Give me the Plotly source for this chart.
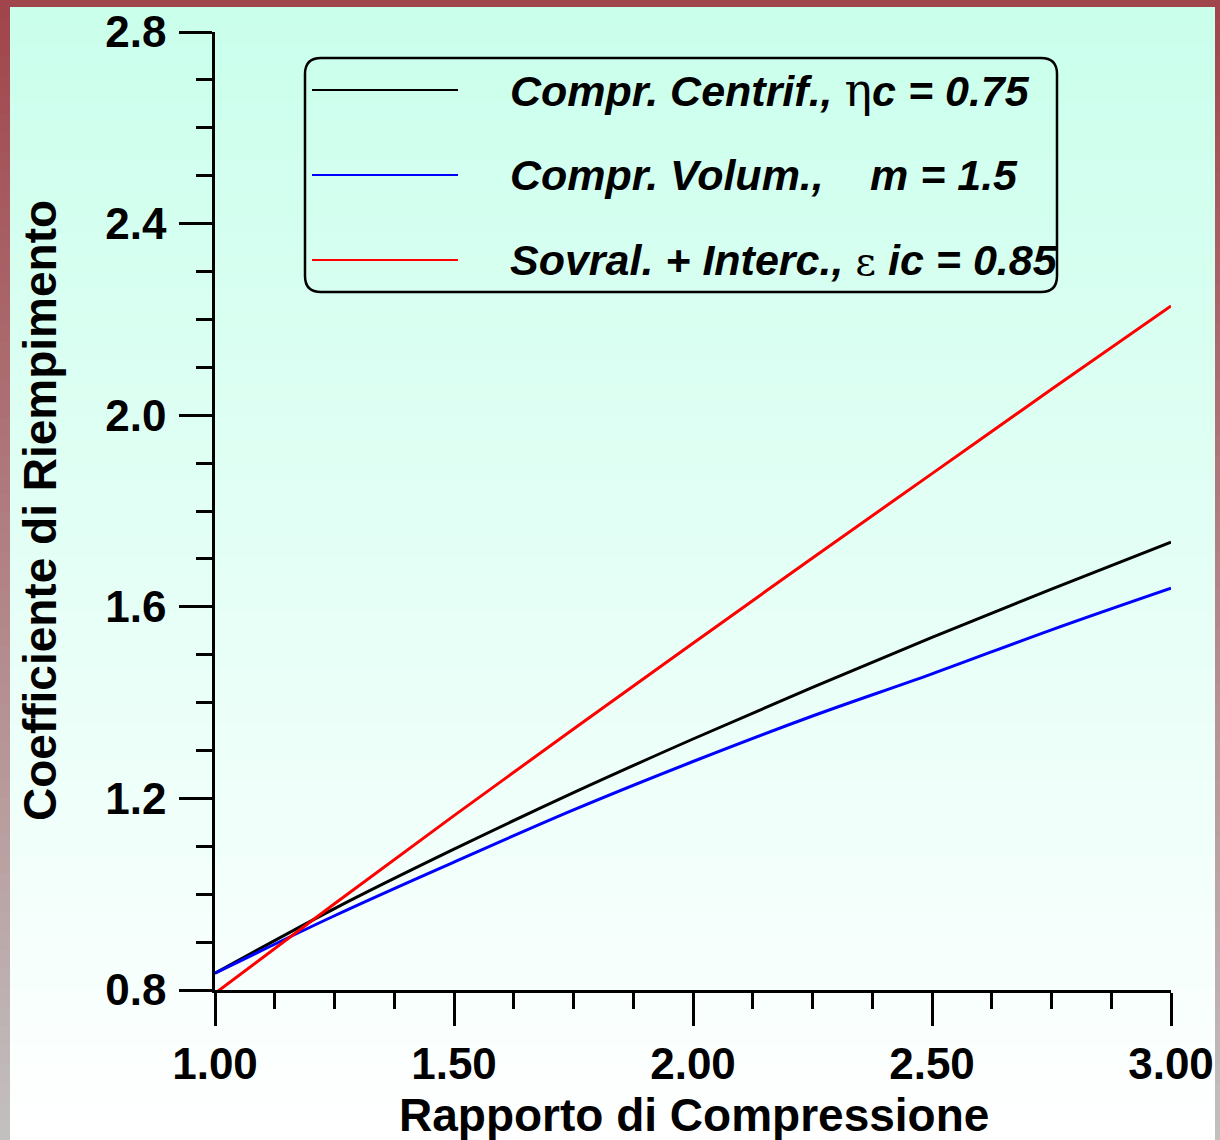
import plotly.graph_objects as go

# ---- data ----
pressure_ratio = [1.00, 1.25, 1.50, 1.75, 2.00, 2.25, 2.50, 2.75, 3.00]
centrif = [0.835, 0.970, 1.094, 1.212, 1.324, 1.432, 1.536, 1.637, 1.735]
volum = [0.835, 0.955, 1.067, 1.176, 1.277, 1.372, 1.460, 1.552, 1.639]
sovral = [0.793, 0.980, 1.164, 1.345, 1.524, 1.702, 1.878, 2.054, 2.228]

GREEK = "<span style=\"font-family:'DejaVu Serif';font-weight:normal;font-size:%dpx\">%s</span>"
series_names = [
    "<i>Compr. Centrif.,</i> " + GREEK % (46, "η") + "<i>c = 0.75</i>",
    "<i>Compr. Volum.,</i>",
    "<i>Sovral. + Interc.,</i> " + GREEK % (40, "ε") + " <i>ic = 0.85</i>",
]
extra_label = "<i>m = 1.5</i>"
series_colors = ["#000000", "#0000FF", "#FF0000"]

x_ticks = [1.0, 1.5, 2.0, 2.5, 3.0]
x_ticklabels = ["1.00", "1.50", "2.00", "2.50", "3.00"]
y_ticks = [0.8, 1.2, 1.6, 2.0, 2.4, 2.8]
y_ticklabels = ["0.8", "1.2", "1.6", "2.0", "2.4", "2.8"]

W, H = 1220, 1140
L, R, T, B = 215, 49, 32, 150
PW, PH = W - L - R, H - T - B


def px(x):
    return (x - L) / PW


def py(y):
    return (H - B - y) / PH


FONT = "Liberation Sans, Arial, sans-serif"

fig = go.Figure()
for ys, c in zip([centrif, volum, sovral], series_colors):
    fig.add_trace(go.Scatter(x=pressure_ratio, y=ys, mode="lines",
                             line=dict(color=c, width=3, shape="spline"),
                             showlegend=False))

shapes = []


def lerp(c1, c2, t):
    return tuple(round(a + (b - a) * t) for a, b in zip(c1, c2))


# outer frame gradient
N = 60
c_top, c_bot = (160, 68, 74), (194, 192, 192)
for i in range(N):
    y0 = H * i / N
    y1 = H * (i + 1) / N + 1
    col = lerp(c_top, c_bot, (i + 0.5) / N)
    shapes.append(dict(type="rect", xref="paper", yref="paper", layer="below",
                       x0=px(0), x1=px(W), y0=py(y0), y1=py(y1),
                       fillcolor="rgb(%d,%d,%d)" % col, line=dict(width=0)))
# inner panel gradient
in_top, in_bot = (202, 255, 236), (255, 255, 255)
x0i, x1i, y0i, y1i = 10, 1215, 7, H
for i in range(N):
    y0 = y0i + (y1i - y0i) * i / N
    y1 = y0i + (y1i - y0i) * (i + 1) / N + 1
    if i == N - 1:
        y1 = y1i
    col = lerp(in_top, in_bot, (i + 0.5) / N)
    shapes.append(dict(type="rect", xref="paper", yref="paper", layer="below",
                       x0=px(x0i), x1=px(x1i), y0=py(y0), y1=py(y1),
                       fillcolor="rgb(%d,%d,%d)" % col, line=dict(width=0)))

# legend box (rounded)
bx0, bx1, by0, by1, r = 305, 1057, 58, 292, 16
path = (f"M {px(bx0 + r)},{py(by0)} L {px(bx1 - r)},{py(by0)} "
        f"Q {px(bx1)},{py(by0)} {px(bx1)},{py(by0 + r)} "
        f"L {px(bx1)},{py(by1 - r)} Q {px(bx1)},{py(by1)} {px(bx1 - r)},{py(by1)} "
        f"L {px(bx0 + r)},{py(by1)} Q {px(bx0)},{py(by1)} {px(bx0)},{py(by1 - r)} "
        f"L {px(bx0)},{py(by0 + r)} Q {px(bx0)},{py(by0)} {px(bx0 + r)},{py(by0)} Z")
shapes.append(dict(type="path", xref="paper", yref="paper", path=path,
                   line=dict(color="black", width=2.5), fillcolor="rgba(0,0,0,0)"))

annotations = []
rows_y = [90, 175, 260]
for name, c, yy in zip(series_names, series_colors, rows_y):
    shapes.append(dict(type="line", xref="paper", yref="paper",
                       x0=px(312), x1=px(458), y0=py(yy), y1=py(yy),
                       line=dict(color=c, width=2.2)))
    annotations.append(dict(xref="paper", yref="paper", x=px(508), y=py(yy),
                            xanchor="left", yanchor="middle", showarrow=False,
                            text=name, font=dict(family=FONT, size=43, color="black", weight="bold")))
annotations.append(dict(xref="paper", yref="paper", x=px(868), y=py(rows_y[1]),
                        xanchor="left", yanchor="middle", showarrow=False,
                        text=extra_label, font=dict(family=FONT, size=43, color="black", weight="bold")))

# axis titles
annotations.append(dict(xref="paper", yref="paper", x=px(694), y=py(1115),
                        xanchor="center", yanchor="middle", showarrow=False,
                        text="Rapporto di Compressione",
                        font=dict(family=FONT, size=46, color="black", weight="bold")))
annotations.append(dict(xref="paper", yref="paper", x=px(40), y=py(511),
                        xanchor="center", yanchor="middle", showarrow=False, textangle=-90,
                        text="Coefficiente di Riempimento",
                        font=dict(family=FONT, size=46, color="black", weight="bold")))

axis_common = dict(showgrid=False, zeroline=False, showline=True, linecolor="black",
                   linewidth=2.5, ticks="outside", ticklen=33, tickwidth=2.5,
                   tickcolor="black", automargin=False,
                   tickfont=dict(family=FONT, size=44, color="black", weight="bold"))

fig.update_layout(
    width=W, height=H,
    margin=dict(l=L, r=R, t=T, b=B, pad=0, autoexpand=False),
    paper_bgcolor="rgb(192,192,192)",
    plot_bgcolor="rgba(0,0,0,0)",
    shapes=shapes,
    annotations=annotations,
    showlegend=False,
    xaxis=dict(range=[1.0, 3.0], tickvals=x_ticks, ticktext=x_ticklabels,
               minor=dict(dtick=0.125, tick0=1.0, ticklen=16, tickwidth=2.5,
                          tickcolor="black", ticks="outside"),
               ticklabelstandoff=0,
               **axis_common),
    yaxis=dict(range=[0.8, 2.8], tickvals=y_ticks, ticktext=y_ticklabels,
               minor=dict(dtick=0.1, tick0=0.8, ticklen=16, tickwidth=2.5,
                          tickcolor="black", ticks="outside"),
               ticklabelstandoff=4,
               **axis_common),
)

fig.write_html("out.html")
